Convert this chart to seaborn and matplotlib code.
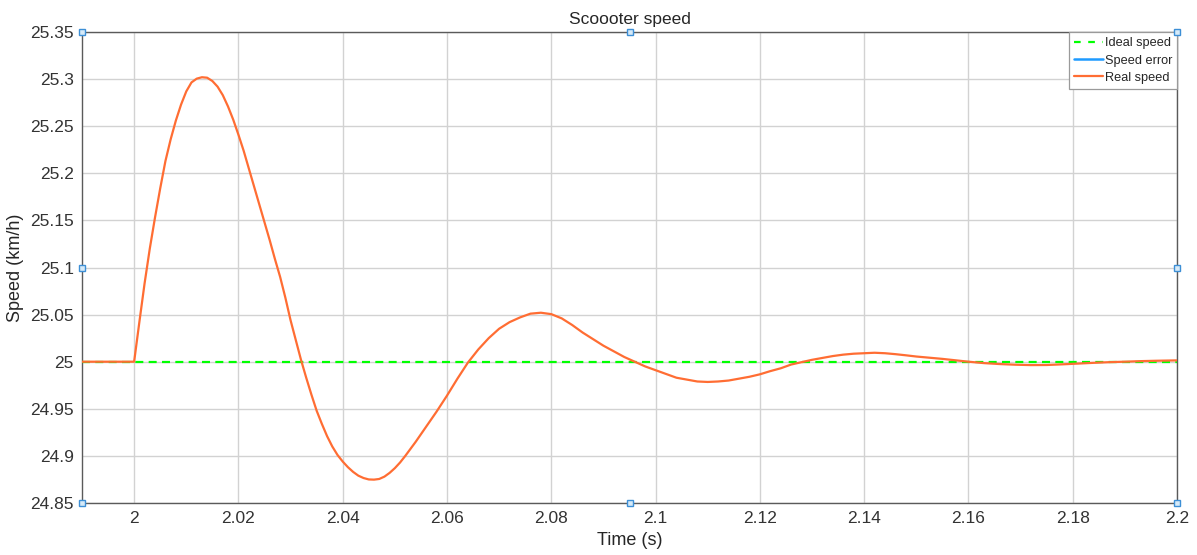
import numpy as np
import pandas as pd
import matplotlib
matplotlib.use("Agg")
import matplotlib.pyplot as plt
import seaborn as sns

# Sampled scooter speed response around the step at t = 2 s
time_s = [1.990, 2.000, 2.001, 2.002, 2.003, 2.004, 2.005, 2.006, 2.007, 2.008,
          2.009, 2.010, 2.011, 2.012, 2.013, 2.014, 2.015, 2.016, 2.017, 2.018,
          2.019, 2.020, 2.021, 2.022, 2.023, 2.024, 2.025, 2.026, 2.027, 2.028,
          2.029, 2.030, 2.031, 2.032, 2.033, 2.034, 2.035, 2.036, 2.037, 2.038,
          2.039, 2.040, 2.041, 2.042, 2.043, 2.044, 2.045, 2.046, 2.047, 2.048,
          2.049, 2.050, 2.051, 2.052, 2.054, 2.056, 2.058, 2.060, 2.062, 2.064,
          2.066, 2.068, 2.070, 2.072, 2.074, 2.076, 2.078, 2.080, 2.082, 2.084,
          2.086, 2.088, 2.090, 2.092, 2.094, 2.096, 2.098, 2.100, 2.102, 2.104,
          2.106, 2.108, 2.110, 2.112, 2.114, 2.116, 2.118, 2.120, 2.122, 2.124,
          2.126, 2.128, 2.130, 2.132, 2.134, 2.136, 2.138, 2.140, 2.142, 2.144,
          2.146, 2.148, 2.150, 2.152, 2.155, 2.158, 2.160, 2.163, 2.166, 2.169,
          2.172, 2.175, 2.178, 2.181, 2.184, 2.187, 2.190, 2.193, 2.196, 2.200]
real_speed = [25.000, 25.000, 25.042, 25.083, 25.120, 25.153, 25.184, 25.213, 25.236, 25.256,
              25.273, 25.287, 25.2965, 25.3005, 25.302, 25.3015, 25.298, 25.292, 25.283, 25.271,
              25.257, 25.241, 25.224, 25.205, 25.186, 25.167, 25.148, 25.129, 25.109, 25.090,
              25.068, 25.044, 25.023, 25.002, 24.983, 24.965, 24.948, 24.934, 24.921, 24.910,
              24.901, 24.894, 24.888, 24.883, 24.879, 24.8765, 24.875, 24.8748, 24.8755, 24.878,
              24.882, 24.887, 24.893, 24.900, 24.915, 24.931, 24.947, 24.964, 24.982, 24.999,
              25.013, 25.025, 25.035, 25.042, 25.047, 25.051, 25.052, 25.0505, 25.046, 25.039,
              25.031, 25.024, 25.017, 25.011, 25.005, 25.000, 24.995, 24.991, 24.987, 24.983,
              24.981, 24.979, 24.9785, 24.979, 24.980, 24.982, 24.984, 24.9866, 24.990, 24.993,
              24.997, 24.9995, 25.002, 25.004, 25.006, 25.0075, 25.0085, 25.009, 25.0095, 25.009,
              25.008, 25.0068, 25.0055, 25.0045, 25.003, 25.0012, 25.000, 24.9985, 24.9975, 24.9968,
              24.9964, 24.9965, 24.9972, 24.998, 24.9988, 24.9995, 25.000, 25.0006, 25.001, 25.0014]
ideal_value = 25.0

x_ticks = [2.0, 2.02, 2.04, 2.06, 2.08, 2.1, 2.12, 2.14, 2.16, 2.18, 2.2]
x_tick_labels = ["2", "2.02", "2.04", "2.06", "2.08", "2.1", "2.12", "2.14",
                 "2.16", "2.18", "2.2"]
y_ticks = [24.85, 24.9, 24.95, 25.0, 25.05, 25.1, 25.15, 25.2, 25.25, 25.3, 25.35]
y_tick_labels = ["24.85", "24.9", "24.95", "25", "25.05", "25.1", "25.15",
                 "25.2", "25.25", "25.3", "25.35"]

df = pd.DataFrame({"t": time_s, "real": real_speed})
df["ideal"] = ideal_value
df["error"] = df["ideal"] - df["real"]

sns.set_theme(style="whitegrid")
plt.rcParams["font.family"] = ["Liberation Sans", "DejaVu Sans"]

fig = plt.figure(figsize=(11.97, 5.55), dpi=100)
ax = fig.add_axes([0.0685, 0.0937, 0.9148, 0.8486])

sns.lineplot(data=df, x="t", y="ideal", ax=ax, color="#00ff00", lw=1.6,
             label="Ideal speed", zorder=3)
ax.lines[-1].set_dashes((3.6, 2.4))
sns.lineplot(data=df, x="t", y="error", ax=ax, color="#1e9bff", lw=1.8,
             label="Speed error", zorder=2)
sns.lineplot(data=df, x="t", y="real", ax=ax, color="#ff6d33", lw=1.6,
             label="Real speed", zorder=4)

ax.set_xlim(1.99, 2.2)
ax.set_ylim(24.85, 25.35)
ax.set_xticks(x_ticks)
ax.set_xticklabels(x_tick_labels)
ax.set_yticks(y_ticks)
ax.set_yticklabels(y_tick_labels)

ax.grid(True, color="#d2d2d2", lw=1.0)
ax.set_facecolor("white")
for s in ax.spines.values():
    s.set_visible(True)
    s.set_color("#5a5a5a")
    s.set_linewidth(1.0)
ax.tick_params(axis="both", direction="in", length=5, width=0.8,
               color="#7a7a7a", labelsize=12.5, labelcolor="#333333", pad=6)

ax.set_title("Scoooter speed", fontsize=12.5, color="#262626", pad=6)
ax.set_xlabel("Time (s)", fontsize=13, color="#262626", labelpad=4)
ax.set_ylabel("Speed (km/h)", fontsize=13, color="#262626", labelpad=4)

leg = ax.legend(loc="upper right", fontsize=9.2, frameon=True, fancybox=False,
                borderaxespad=0.0, handlelength=2.2, handletextpad=0.15,
                labelspacing=0.42, borderpad=0.4, framealpha=1.0)
leg.get_frame().set_edgecolor("#9a9a9a")
leg.get_frame().set_linewidth(0.9)
leg.get_lines()[0].set_dashes((3.0, 3.4))

# Selection handles on the axes box
hx = [0.0, 0.5, 1.0, 0.0, 1.0, 0.0, 0.5, 1.0]
hy = [1.0, 1.0, 1.0, 0.5, 0.5, 0.0, 0.0, 0.0]
ax.plot(hx, hy, ls="none", marker="s", ms=4.5, mfc="#d6eaf8", mec="#3d8fd6",
        mew=1.0, transform=ax.transAxes, clip_on=False, zorder=10)

fig.savefig("out.png", dpi=100)
